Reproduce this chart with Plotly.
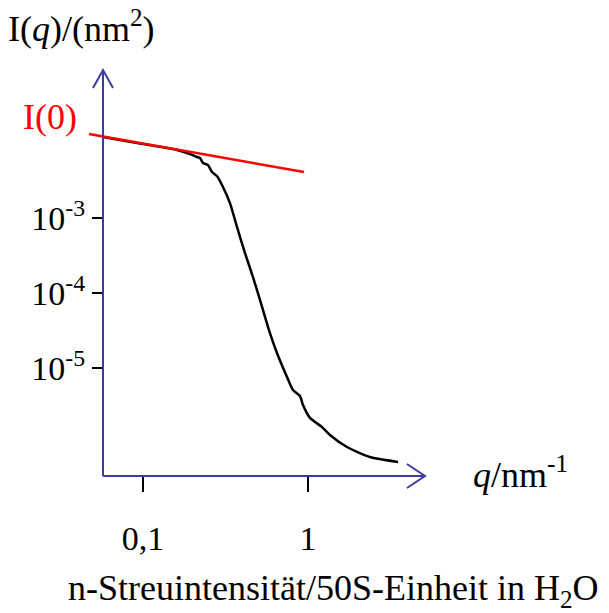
import plotly.graph_objects as go
import numpy as np

# ---- data ----
q_values = [0.0572, 0.0959, 0.1607, 0.1927, 0.2124, 0.2215, 0.2310, 0.2477, 0.2619,
            0.2807, 0.3053, 0.3366, 0.3714, 0.4150, 0.4642, 0.5117, 0.5725, 0.6486,
            0.7461, 0.8110, 0.8940, 0.9326, 1.028, 1.216, 1.359, 1.723, 2.376, 3.513]
I_values = [0.01202, 0.00985, 0.00807, 0.00713, 0.00651, 0.00631, 0.00541, 0.00509, 0.00410,
            0.00363, 0.00259, 0.00158, 7.59e-4, 3.41e-4, 1.63e-4, 8.07e-5, 3.52e-5, 1.585e-5,
            7.59e-6, 5.09e-6, 4.23e-6, 3.21e-6, 2.16e-6, 1.63e-6, 1.28e-6, 8.85e-7, 6.5e-7, 5.58e-7]
guinier_q = [0.0471, 0.946]
guinier_I = [0.01318, 0.0041]
x_tick_vals = [0.1, 1]
x_tick_text = ["0,1", "1"]
y_tick_vals = [1e-3, 1e-4, 1e-5]
y_tick_text = ["10<sup>-3</sup>", "10<sup>-4</sup>", "10<sup>-5</sup>"]

W, H = 609, 613
ML, MR, MT, MB = 80, 184, 70, 137
PW, PH = W - ML - MR, H - MT - MB

def px(x):
    return (x - ML) / PW

def py(y):
    return (H - MB - y) / PH

AXC = "#3c3ca0"
FONT = "Liberation Serif, Times New Roman, serif"

fig = go.Figure()
fig.add_trace(go.Scatter(x=q_values, y=I_values, mode="lines",
                         line=dict(color="black", width=2.5, shape="spline", smoothing=0.6),
                         showlegend=False, hoverinfo="skip"))
fig.add_trace(go.Scatter(x=guinier_q, y=guinier_I, mode="lines",
                         line=dict(color="red", width=2.5),
                         showlegend=False, hoverinfo="skip"))

# axis line for x and arrow heads (paper coords)
shapes = [
    dict(type="line", xref="paper", yref="paper", x0=px(103), x1=px(425), y0=py(476), y1=py(476),
         line=dict(color=AXC, width=2)),
    dict(type="path", xref="paper", yref="paper",
         path=f"M {px(407)} {py(464)} L {px(425)} {py(476)} L {px(407)} {py(488)}",
         line=dict(color=AXC, width=2)),
    dict(type="path", xref="paper", yref="paper",
         path=f"M {px(93)} {py(88)} L {px(103)} {py(70)} L {px(113)} {py(88)}",
         line=dict(color=AXC, width=2)),
]

annotations = [
    dict(text="I(<i>q</i>)/(nm<sup>2</sup>)", xref="paper", yref="paper", x=px(6), y=py(27),
         xanchor="left", yanchor="middle", showarrow=False, font=dict(family=FONT, size=36, color="black")),
    dict(text="I(0)", xref="paper", yref="paper", x=px(21), y=py(117),
         xanchor="left", yanchor="middle", showarrow=False, font=dict(family=FONT, size=36, color="red")),
    dict(text="<i>q</i>/nm<sup>-1</sup>", xref="paper", yref="paper", x=px(471), y=py(472),
         xanchor="left", yanchor="middle", showarrow=False, font=dict(family=FONT, size=36, color="black")),
    dict(text="n-Streuintensität/50S-Einheit in H<sub>2</sub>O", xref="paper", yref="paper", x=px(333), y=py(590),
         xanchor="center", yanchor="middle", showarrow=False, font=dict(family=FONT, size=36, color="black")),
]

fig.update_layout(
    width=W, height=H,
    margin=dict(l=ML, r=MR, t=MT, b=MB, autoexpand=False),
    paper_bgcolor="white", plot_bgcolor="white",
    shapes=shapes, annotations=annotations,
    xaxis=dict(type="log", range=[(80 - 308) / 165, (425 - 308) / 165],
               showgrid=False, zeroline=False, showline=False,
               tickmode="array", tickvals=x_tick_vals, ticktext=x_tick_text,
               ticks="outside", ticklen=15, tickwidth=2, tickcolor="black",
               ticklabelstandoff=17,
               tickfont=dict(family=FONT, size=34, color="black")),
    yaxis=dict(type="log", range=[-3 + (218 - 476) / 75, -3 + (218 - 70) / 75],
               anchor="free", position=px(103),
               showgrid=False, zeroline=False, showline=True, linecolor=AXC, linewidth=2,
               tickmode="array", tickvals=y_tick_vals, ticktext=y_tick_text,
               ticks="outside", ticklen=10, tickwidth=2, tickcolor="black",
               tickfont=dict(family=FONT, size=34, color="black")),
)

fig.write_html("out.html")
